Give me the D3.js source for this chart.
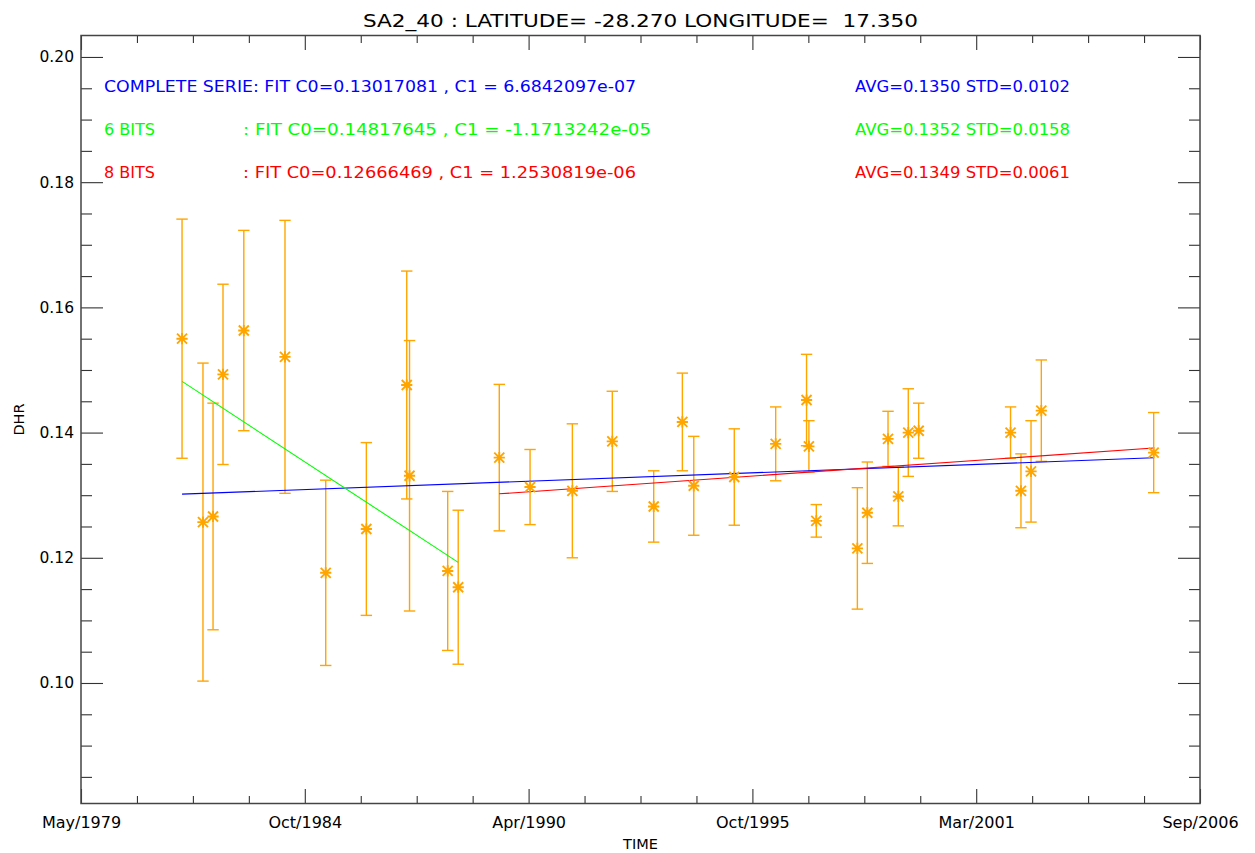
<!DOCTYPE html>
<html>
<head>
<meta charset="utf-8">
<script src="https://cdn.jsdelivr.net/npm/d3@7"></script>
<style>
  html, body { margin: 0; padding: 0; background: #fff; }
  svg { display: block; font-family: "DejaVu Sans", sans-serif; }
  text { white-space: pre; }
</style>
</head>
<body>
<svg id="chart" width="1255" height="853"></svg>
<script>
// ---------------- data ----------------
const titleText = "SA2_40 : LATITUDE= -28.270 LONGITUDE=  17.350";
const xLabel = "TIME";
const yLabel = "DHR";

// observation dates
const obsDates = [
  "1981-10-20", "1982-04-25", "1982-07-24", "1982-10-21", "1983-04-25",
  "1984-04-27", "1985-04-26", "1986-04-24", "1987-04-20", "1987-05-15",
  "1988-04-20", "1988-07-23",
  "1989-07-25", "1990-04-26", "1991-05-09", "1992-04-30", "1993-05-05",
  "1994-01-16", "1994-04-28", "1995-04-25", "1996-04-29", "1997-01-30",
  "1997-02-20", "1997-04-27", "1998-04-29", "1998-07-27", "1999-01-28",
  "1999-04-30", "1999-07-28", "1999-10-29", "2002-01-27", "2002-04-30",
  "2002-07-29", "2002-10-29", "2005-07-29"
];
// DHR values
const dhrValues = [
  0.1550, 0.1257, 0.1266, 0.1493, 0.1563,
  0.1521, 0.1176, 0.1246, 0.1476, 0.1331,
  0.1179, 0.1153,
  0.1360, 0.1313, 0.1307, 0.1386, 0.1282,
  0.1417, 0.1315, 0.1329, 0.1382, 0.1452,
  0.1378, 0.1259, 0.1215, 0.1272, 0.1390,
  0.1298, 0.1400, 0.1403, 0.1400, 0.1307,
  0.1338, 0.1435, 0.1368
];
// error (half-length of bar)
const dhrErrors = [
  0.0191, 0.0254, 0.0181, 0.0144, 0.0160,
  0.0218, 0.0148, 0.0138, 0.0182, 0.0216,
  0.0127, 0.0123,
  0.0117, 0.0060, 0.0107, 0.0080, 0.0057,
  0.0078, 0.0079, 0.0077, 0.0059, 0.0073,
  0.0041, 0.0026, 0.0097, 0.0081, 0.0044,
  0.0047, 0.0070, 0.0044, 0.0041, 0.0059,
  0.0081, 0.0081, 0.0064
];

// fits: complete serie, 6 bits, 8 bits
const fitNames  = ["COMPLETE SERIE", "6 BITS", "8 BITS"];
const fitFirst  = [0, 0, 12];     // first index of subset
const fitLast   = [34, 11, 34];   // last index of subset
const fitC0     = [0.13017081, 0.14817645, 0.12666469];
const fitC1     = [6.6842097e-07, -1.1713242e-05, 1.2530819e-06]; // per day since first obs
const fitAvg    = [0.1350, 0.1352, 0.1349];
const fitStd    = [0.0102, 0.0158, 0.0061];

// axes
const xStart = "1979-05-01";
const xSpanDays = 10000;
const xTickStepDays = 2000;
const xMinorStepDays = 500;
const xTickLabels = ["May/1979", "Oct/1984", "Apr/1990", "Oct/1995", "Mar/2001", "Sep/2006"];
const yDomain = [0.08075, 0.20343];
const yTicks = [0.10, 0.12, 0.14, 0.16, 0.18, 0.20];
const yMinorTicks = [0.085, 0.090, 0.095, 0.105, 0.110, 0.115, 0.125, 0.130, 0.135,
                     0.145, 0.150, 0.155, 0.165, 0.170, 0.175, 0.185, 0.190, 0.195];

// ---------------- styles ----------------
const fitColors = ["#0000ff", "#00ff00", "#ff0000"];
const pointColor = "#ffa500";
const axisColor = "#333";

// ---------------- drawing ----------------
const DAY = 864e5;
const parse = d3.utcParse("%Y-%m-%d");
const startDate = parse(xStart);
const endDate = new Date(+startDate + xSpanDays * DAY);

const L = 81, R = 1200, T = 35.5, B = 803.5;
const svg = d3.select("#chart");

const x = d3.scaleUtc().domain([startDate, endDate]).range([L, R]);
const y = d3.scaleLinear().domain(yDomain).range([B, T]);

const majorDates = d3.range(0, xSpanDays + 1, xTickStepDays).map(d => new Date(+startDate + d * DAY));
const minorDates = d3.range(0, xSpanDays + 1, xMinorStepDays)
  .filter(d => d % xTickStepDays !== 0)
  .map(d => new Date(+startDate + d * DAY));

function styleAxis(g) {
  g.select(".domain").remove();
  g.selectAll(".tick line").attr("stroke", axisColor).attr("stroke-width", 1.1);
  g.selectAll("text").attr("fill", "#000");
}

// bottom axis (labels)
svg.append("g").attr("transform", `translate(0,${B})`)
  .call(d3.axisBottom(x).tickValues(majorDates).tickSizeInner(-14.5).tickSizeOuter(0)
    .tickPadding(13).tickFormat((d, i) => xTickLabels[i]))
  .call(styleAxis)
  .call(g => g.selectAll("text").attr("font-size", 16).attr("font-family", "DejaVu Sans"));
svg.append("g").attr("transform", `translate(0,${B})`)
  .call(d3.axisBottom(x).tickValues(minorDates).tickSizeInner(-7.5).tickSizeOuter(0).tickFormat(""))
  .call(styleAxis);
// top axis
svg.append("g").attr("transform", `translate(0,${T})`)
  .call(d3.axisTop(x).tickValues(majorDates).tickSizeInner(-14.5).tickSizeOuter(0).tickFormat(""))
  .call(styleAxis);
svg.append("g").attr("transform", `translate(0,${T})`)
  .call(d3.axisTop(x).tickValues(minorDates).tickSizeInner(-7.5).tickSizeOuter(0).tickFormat(""))
  .call(styleAxis);
// left axis
svg.append("g").attr("transform", `translate(${L},0)`)
  .call(d3.axisLeft(y).tickValues(yTicks).tickSizeInner(-22).tickSizeOuter(0)
    .tickPadding(7).tickFormat(d3.format(".2f")))
  .call(styleAxis)
  .call(g => g.selectAll("text").attr("font-size", 15.5).attr("font-family", "DejaVu Sans"));
svg.append("g").attr("transform", `translate(${L},0)`)
  .call(d3.axisLeft(y).tickValues(yMinorTicks).tickSizeInner(-11).tickSizeOuter(0).tickFormat(""))
  .call(styleAxis);
// right axis
svg.append("g").attr("transform", `translate(${R},0)`)
  .call(d3.axisRight(y).tickValues(yTicks).tickSizeInner(-22).tickSizeOuter(0).tickFormat(""))
  .call(styleAxis);
svg.append("g").attr("transform", `translate(${R},0)`)
  .call(d3.axisRight(y).tickValues(yMinorTicks).tickSizeInner(-11).tickSizeOuter(0).tickFormat(""))
  .call(styleAxis);

// frame
svg.append("rect").attr("x", L).attr("y", T).attr("width", R - L).attr("height", B - T)
  .attr("fill", "none").attr("stroke", "#444").attr("stroke-width", 1.5);

// title & axis labels
svg.append("text").attr("x", 363).attr("y", 26.7).attr("font-size", 18)
  .attr("textLength", 555).attr("lengthAdjust", "spacingAndGlyphs").text(titleText);
svg.append("text").attr("x", (L + R) / 2).attr("y", 848.5).attr("text-anchor", "middle")
  .attr("font-size", 14.5).text(xLabel);
svg.append("text").attr("transform", `translate(23.5,${(T + B) / 2}) rotate(-90)`)
  .attr("text-anchor", "middle").attr("font-size", 14.5).text(yLabel);

// data
const pts = obsDates.map((d, i) => ({ date: parse(d), v: dhrValues[i], e: dhrErrors[i] }));
const firstDate = pts[0].date;

// error bars
const eb = svg.append("g").attr("stroke", pointColor).attr("stroke-width", 1.4).attr("fill", "none");
const cap = 5.7;
pts.forEach(p => {
  const cx = x(p.date), yt = y(p.v + p.e), yb = y(p.v - p.e);
  eb.append("line").attr("x1", cx).attr("x2", cx).attr("y1", yt).attr("y2", yb);
  eb.append("line").attr("x1", cx - cap).attr("x2", cx + cap).attr("y1", yt).attr("y2", yt);
  eb.append("line").attr("x1", cx - cap).attr("x2", cx + cap).attr("y1", yb).attr("y2", yb);
});

// fit lines
fitNames.forEach((name, k) => {
  const d0 = pts[fitFirst[k]].date, d1 = pts[fitLast[k]].date;
  const f = d => fitC0[k] + fitC1[k] * ((+d - +firstDate) / DAY);
  svg.append("line")
    .attr("x1", x(d0)).attr("y1", y(f(d0)))
    .attr("x2", x(d1)).attr("y2", y(f(d1)))
    .attr("stroke", fitColors[k]).attr("stroke-width", 1.1);
});

// asterisk symbols
const s = 5.6, sd = 5.0;
const ast = svg.append("g").attr("stroke", pointColor).attr("stroke-width", 1.9);
pts.forEach(p => {
  const cx = x(p.date), cy = y(p.v);
  ast.append("path").attr("d",
    `M${cx - s},${cy}L${cx + s},${cy}` +
    `M${cx},${cy - s}L${cx},${cy + s}` +
    `M${cx - sd},${cy - sd}L${cx + sd},${cy + sd}` +
    `M${cx - sd},${cy + sd}L${cx + sd},${cy - sd}`);
});

// legend texts
function expFmt(v) {
  return v.toExponential(7).replace(/e([+-])(\d)$/, "e$10$2");
}
const legendY = [91.5, 135, 178.3];
const fitTextLen = [532, 408, 393];
fitNames.forEach((name, k) => {
  const fitStr = "FIT C0=" + fitC0[k].toFixed(8) + " , C1 = " + expFmt(fitC1[k]);
  if (k === 0) {
    svg.append("text").attr("x", 104).attr("y", legendY[k]).attr("font-size", 16)
      .attr("fill", fitColors[k]).attr("textLength", fitTextLen[k]).attr("lengthAdjust", "spacingAndGlyphs")
      .text(name + ": " + fitStr);
  } else {
    svg.append("text").attr("x", 104).attr("y", legendY[k]).attr("font-size", 16)
      .attr("fill", fitColors[k]).text(name);
    svg.append("text").attr("x", 243).attr("y", legendY[k]).attr("font-size", 16)
      .attr("fill", fitColors[k]).attr("textLength", fitTextLen[k]).attr("lengthAdjust", "spacingAndGlyphs")
      .text(": " + fitStr);
  }
  svg.append("text").attr("x", 855).attr("y", legendY[k]).attr("font-size", 16)
    .attr("fill", fitColors[k]).attr("textLength", 215).attr("lengthAdjust", "spacingAndGlyphs")
    .text("AVG=" + fitAvg[k].toFixed(4) + " STD=" + fitStd[k].toFixed(4));
});
</script>
</body>
</html>
